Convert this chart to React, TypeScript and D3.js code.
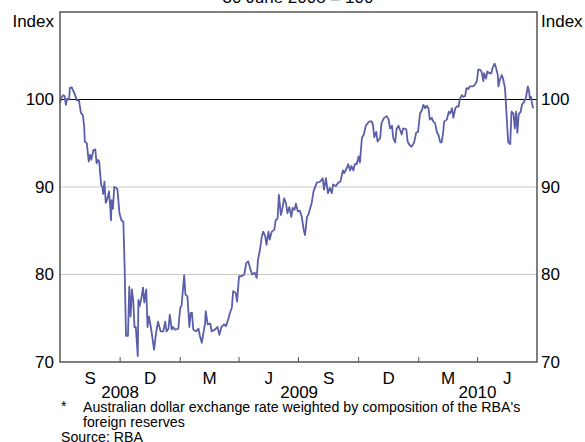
import React from "react";
import * as d3 from "d3";

// traced daily-ish observations, 30 June 2008 = 100
const dates = [
  "2008-07-01", "2008-07-03", "2008-07-06", "2008-07-08", "2008-07-10", "2008-07-12", "2008-07-15", "2008-07-16",
  "2008-07-19", "2008-07-21", "2008-07-22", "2008-07-27", "2008-07-30", "2008-08-02", "2008-08-05", "2008-08-07",
  "2008-08-08", "2008-08-11", "2008-08-14", "2008-08-16", "2008-08-18", "2008-08-21", "2008-08-24", "2008-08-26",
  "2008-08-28", "2008-08-30", "2008-09-02", "2008-09-04", "2008-09-05", "2008-09-07", "2008-09-09", "2008-09-11",
  "2008-09-14", "2008-09-16", "2008-09-17", "2008-09-18", "2008-09-20", "2008-09-22", "2008-09-25", "2008-09-27",
  "2008-09-30", "2008-10-03", "2008-10-06", "2008-10-08", "2008-10-10", "2008-10-13", "2008-10-15", "2008-10-17",
  "2008-10-19", "2008-10-21", "2008-10-23", "2008-10-25", "2008-10-28", "2008-10-29", "2008-10-31", "2008-11-03",
  "2008-11-05", "2008-11-07", "2008-11-10", "2008-11-12", "2008-11-14", "2008-11-17", "2008-11-22", "2008-11-25",
  "2008-11-28", "2008-12-02", "2008-12-06", "2008-12-09", "2008-12-11", "2008-12-14", "2008-12-16", "2008-12-19",
  "2008-12-21", "2008-12-24", "2008-12-29", "2009-01-01", "2009-01-03", "2009-01-07", "2009-01-09", "2009-01-12",
  "2009-01-15", "2009-01-17", "2009-01-19", "2009-01-21", "2009-01-25", "2009-01-29", "2009-01-31", "2009-02-03",
  "2009-02-05", "2009-02-08", "2009-02-09", "2009-02-12", "2009-02-16", "2009-02-18", "2009-02-23", "2009-02-27",
  "2009-03-02", "2009-03-05", "2009-03-09", "2009-03-12", "2009-03-16", "2009-03-18", "2009-03-21", "2009-03-23",
  "2009-03-27", "2009-03-29", "2009-04-01", "2009-04-05", "2009-04-09", "2009-04-12", "2009-04-15", "2009-04-18",
  "2009-04-21", "2009-04-25", "2009-04-28", "2009-04-30", "2009-05-03", "2009-05-06", "2009-05-08", "2009-05-11",
  "2009-05-13", "2009-05-16", "2009-05-18", "2009-05-21", "2009-05-25", "2009-05-27", "2009-05-30", "2009-06-01",
  "2009-06-04", "2009-06-06", "2009-06-09", "2009-06-12", "2009-06-14", "2009-06-17", "2009-06-20", "2009-06-22",
  "2009-06-25", "2009-06-27", "2009-06-30", "2009-07-03", "2009-07-06", "2009-07-09", "2009-07-11", "2009-07-14",
  "2009-07-16", "2009-07-19", "2009-07-21", "2009-07-24", "2009-07-29", "2009-08-03", "2009-08-07", "2009-08-09",
  "2009-08-12", "2009-08-15", "2009-08-18", "2009-08-21", "2009-08-23", "2009-08-27", "2009-08-31", "2009-09-03",
  "2009-09-07", "2009-09-09", "2009-09-13", "2009-09-15", "2009-09-18", "2009-09-20", "2009-09-23", "2009-09-25",
  "2009-09-28", "2009-10-01", "2009-10-03", "2009-10-06", "2009-10-09", "2009-10-12", "2009-10-16", "2009-10-18",
  "2009-10-21", "2009-10-23", "2009-10-25", "2009-10-28", "2009-10-30", "2009-11-03", "2009-11-05", "2009-11-09",
  "2009-11-13", "2009-11-16", "2009-11-18", "2009-11-21", "2009-11-23", "2009-11-26", "2009-11-28", "2009-12-01",
  "2009-12-03", "2009-12-06", "2009-12-08", "2009-12-13", "2009-12-15", "2009-12-18", "2009-12-21", "2009-12-25",
  "2009-12-28", "2009-12-31", "2010-01-03", "2010-01-06", "2010-01-08", "2010-01-11", "2010-01-13", "2010-01-16",
  "2010-01-18", "2010-01-21", "2010-01-23", "2010-01-26", "2010-01-29", "2010-01-31", "2010-02-03", "2010-02-05",
  "2010-02-07", "2010-02-09", "2010-02-13", "2010-02-16", "2010-02-18", "2010-02-21", "2010-02-23", "2010-02-26",
  "2010-02-28", "2010-03-03", "2010-03-05", "2010-03-08", "2010-03-10", "2010-03-13", "2010-03-15", "2010-03-18",
  "2010-03-20", "2010-03-25", "2010-03-28", "2010-03-31", "2010-04-02", "2010-04-05", "2010-04-07", "2010-04-10",
  "2010-04-11", "2010-04-14", "2010-04-16", "2010-04-19", "2010-04-22", "2010-04-24", "2010-04-27", "2010-04-29",
  "2010-05-02", "2010-05-03", "2010-05-05", "2010-05-08", "2010-05-10", "2010-05-13", "2010-05-14", "2010-05-16",
  "2010-05-18", "2010-05-21", "2010-05-23", "2010-05-26", "2010-05-28", "2010-05-30", "2010-06-01", "2010-06-03",
  "2010-06-06", "2010-06-08", "2010-06-11", "2010-06-14", "2010-06-17", "2010-06-19", "2010-06-20", "2010-06-22",
  "2010-06-23", "2010-06-25",
];

const values = [
  99.6, 100.2, 100.5, 100.4, 99.4, 100.1, 100.0, 101.3,
  101.4, 101.0, 100.9, 99.9, 99.9, 98.5, 98.2, 96.9,
  95.2, 95.0, 92.9, 93.7, 93.1, 94.2, 94.3, 92.7,
  93.1, 92.9, 90.2, 90.0, 89.2, 90.6, 88.2, 88.5,
  89.5, 87.6, 86.2, 88.5, 87.5, 90.0, 89.9, 89.7,
  87.0, 86.2, 86.0, 80.5, 73.0, 73.0, 78.6, 75.2,
  78.3, 77.1, 74.0, 74.0, 70.7, 77.1, 76.4, 77.5,
  78.5, 76.8, 78.3, 74.0, 75.2, 74.0, 71.4, 73.3,
  74.6, 73.5, 73.5, 74.6, 73.5, 73.8, 75.4, 73.7,
  74.0, 73.7, 73.8, 76.2, 76.4, 79.9, 77.7, 77.5,
  74.0, 75.6, 75.6, 73.7, 73.5, 73.8, 73.0, 72.2,
  73.1, 74.4, 75.8, 74.3, 74.4, 73.5, 73.7, 74.0,
  73.1, 74.0, 74.3, 74.1, 75.0, 75.6, 76.2, 78.1,
  77.9, 76.9, 79.8, 79.8, 80.0, 81.3, 81.5, 80.7,
  80.0, 80.2, 79.6, 81.7, 82.8, 84.4, 84.9, 84.4,
  83.4, 84.9, 84.0, 84.9, 85.1, 86.2, 86.4, 89.1,
  86.8, 87.4, 88.7, 88.1, 87.0, 87.7, 86.6, 87.6,
  87.4, 88.1, 87.2, 87.3, 86.6, 85.1, 84.5, 86.6,
  86.8, 87.6, 88.1, 89.5, 90.5, 90.6, 91.0, 89.7,
  91.0, 89.3, 89.9, 89.3, 90.3, 90.1, 90.5, 90.6,
  91.9, 91.6, 92.2, 92.6, 91.9, 92.4, 91.9, 92.6,
  92.6, 93.5, 92.8, 95.6, 96.0, 97.0, 97.4, 97.5,
  97.5, 97.1, 95.7, 96.3, 95.2, 95.6, 97.3, 97.9,
  98.1, 97.7, 96.7, 97.0, 95.6, 95.1, 96.6, 97.0,
  96.6, 96.0, 96.7, 96.6, 95.2, 94.8, 94.6, 95.1,
  96.2, 96.3, 98.4, 98.8, 99.4, 99.0, 99.3, 99.0,
  97.7, 97.9, 97.5, 97.3, 96.2, 96.0, 95.1, 95.1,
  96.0, 97.5, 97.7, 98.6, 98.4, 99.0, 97.9, 99.0,
  99.2, 99.2, 100.1, 100.5, 100.3, 100.4, 101.3, 101.2,
  101.5, 101.5, 101.7, 102.1, 103.4, 103.4, 103.2, 102.1,
  103.0, 102.4, 103.2, 103.0, 103.0, 103.6, 104.1, 103.7,
  102.8, 101.5, 102.2, 102.8, 102.4, 101.3, 100.1, 97.5,
  95.1, 94.9, 98.6, 98.4, 96.7, 98.6, 96.2, 98.3,
  98.6, 99.4, 99.7, 100.2, 101.5, 100.9, 100.1, 100.3,
  99.7, 99.0,
];

const yTicks = [70, 80, 90, 100];
const gridValues = [80, 90];
const quarterLabels = ["S", "D", "M", "J", "S", "D", "M", "J"];
const yearLabels = ["2008", "2009", "2010"];
const yearCentres = ["2008-10-01", "2009-07-02", "2010-04-01"];

const parse = d3.timeParse("%Y-%m-%d");
const font = "'Liberation Sans', Arial, sans-serif";

const App = () => {
  const width = 585;
  const height = 442;
  const left = 60;
  const right = 537;
  const top = 12;
  const bottom = 362;

  const start = new Date(2008, 6, 1);
  const end = new Date(2010, 6, 1);

  const x = d3.scaleTime().domain([start, end]).range([left, right]);
  const y = d3.scaleLinear().domain([70, 110]).range([bottom, top]);

  const data = dates.map((d, i) => ({ date: parse(d) as Date, value: values[i] }));
  const line = d3
    .line<{ date: Date; value: number }>()
    .x((d) => x(d.date))
    .y((d) => y(d.value));

  const quarters = d3.timeMonth.every(3)!.range(start, d3.timeDay.offset(end, 1));
  const innerTicks = quarters.filter((q) => q > start && q < end);

  return (
    <svg
      width={width}
      height={height}
      style={{ position: "absolute", left: 0, top: 0, background: "#fff" }}
      fontFamily={font}
    >
      <text x={298} y={3} fontSize={17} textAnchor="middle" fill="#000">
        30 June 2008 = 100
      </text>

      {gridValues.map((g) => (
        <line key={g} x1={left} x2={right} y1={y(g)} y2={y(g)} stroke="#c8c8c8" strokeWidth={1} />
      ))}
      <line x1={left} x2={right} y1={y(100)} y2={y(100)} stroke="#000" strokeWidth={1} />

      {innerTicks.map((q, i) => (
        <line key={i} x1={x(q)} x2={x(q)} y1={bottom} y2={bottom - 5} stroke="#555" strokeWidth={1} />
      ))}

      <path d={line(data) ?? ""} fill="none" stroke="#5b5ea8" strokeWidth={1.8} strokeLinejoin="round" />

      <rect
        x={left}
        y={top}
        width={right - left}
        height={bottom - top}
        fill="none"
        stroke="#555"
        strokeWidth={1.5}
      />

      <text x={left - 6} y={27} fontSize={17} textAnchor="end">Index</text>
      <text x={right + 4} y={27} fontSize={17} textAnchor="start">Index</text>

      {yTicks.map((t) => (
        <g key={t}>
          <text x={left - 6} y={y(t)} dy="0.35em" fontSize={17} textAnchor="end">{t}</text>
          <text x={right + 4} y={y(t)} dy="0.35em" fontSize={17} textAnchor="start">{t}</text>
        </g>
      ))}

      {quarterLabels.map((l, i) => {
        const mid = new Date((quarters[i].getTime() + quarters[i + 1].getTime()) / 2);
        return (
          <text key={i} x={x(mid)} y={384} fontSize={17} textAnchor="middle">{l}</text>
        );
      })}
      {yearLabels.map((l, i) => (
        <text key={l} x={x(parse(yearCentres[i]) as Date)} y={398} fontSize={17} textAnchor="middle">{l}</text>
      ))}

      <text x={61} y={411} fontSize={14}>*</text>
      <text x={83} y={412} fontSize={14.2}>Australian dollar exchange rate weighted by composition of the RBA's</text>
      <text x={83} y={427} fontSize={14.2}>foreign reserves</text>
      <text x={61} y={442} fontSize={14.2}>Source: RBA</text>
    </svg>
  );
};

export default App;
